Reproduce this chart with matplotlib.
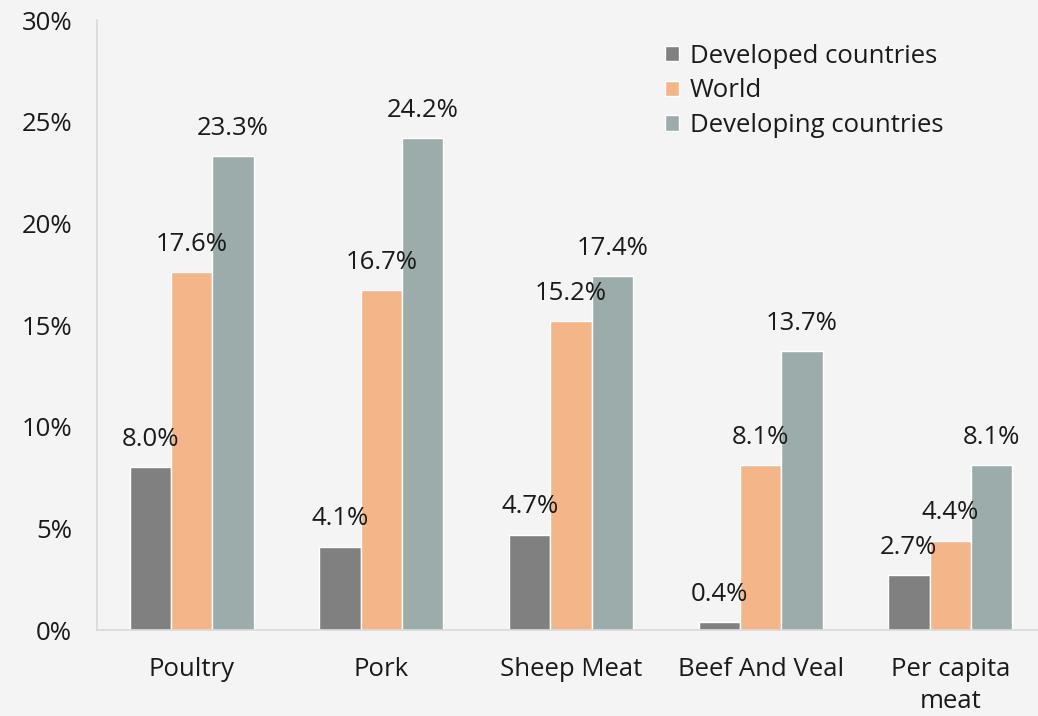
import matplotlib.pyplot as plt
import numpy as np

categories = ["Poultry", "Pork", "Sheep Meat", "Beef And Veal", "Per capita\nmeat"]
series_names = ["Developed countries", "World", "Developing countries"]
developed = [8.0, 4.1, 4.7, 0.4, 2.7]
world = [17.6, 16.7, 15.2, 8.1, 4.4]
developing = [23.3, 24.2, 17.4, 13.7, 8.1]
yticks = [0, 5, 10, 15, 20, 25, 30]

COLORS = ["#808080", "#f4b589", "#9bacab"]
BG = "#f4f4f4"
FS = 18.5

plt.rcParams["font.family"] = ["Open Sans", "DejaVu Sans"]

fig = plt.figure(figsize=(10.38, 7.16), dpi=100, facecolor=BG)
ax = fig.add_axes([0.0934, 0.12, 0.9066, 0.852])
ax.set_facecolor(BG)

x = np.arange(len(categories))
w = 0.218
for i, (vals, name) in enumerate(zip([developed, world, developing], series_names)):
    pos = x + (i - 1) * w
    ax.bar(pos, vals, width=w, color=COLORS[i], edgecolor="white", linewidth=1, label=name)
    for px, v in zip(pos, vals):
        ax.annotate(f"{v:.1f}%", (px, v), xytext=(0, 20), textcoords="offset points",
                    ha="center", va="center", fontsize=FS, color="#1a1a1a")

ax.set_xlim(-0.5, 4.463)
ax.set_ylim(0, 30)
ax.set_yticks(yticks)
ax.set_yticklabels([f"{t}%" for t in yticks], fontsize=FS, color="#1a1a1a")
ax.set_xticks(x)
ax.set_xticklabels(categories, fontsize=FS, color="#1a1a1a", linespacing=1.35)
ax.tick_params(length=0)
ax.tick_params(axis="y", pad=18)
ax.tick_params(axis="x", pad=19.5)

for s in ["top", "right"]:
    ax.spines[s].set_visible(False)
for s in ["left", "bottom"]:
    ax.spines[s].set_color("#d9d9d9")
    ax.spines[s].set_linewidth(1.2)

leg = ax.legend(loc="upper left", bbox_to_anchor=(0.604, 0.961), frameon=False, fontsize=FS,
                borderpad=0, borderaxespad=0,
                handlelength=0.55, handleheight=0.55, handletextpad=0.4, labelspacing=0.37)
for t in leg.get_texts():
    t.set_color("#1a1a1a")

fig.savefig("out.png", dpi=100, facecolor=BG)
